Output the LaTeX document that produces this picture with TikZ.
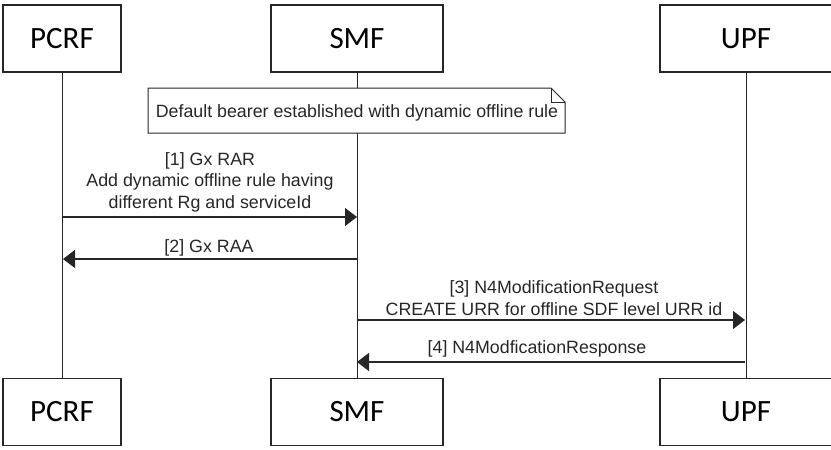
\documentclass[tikz,border=0pt]{standalone}
\usepackage{fontspec}
\setmainfont{Liberation Sans}
\newfontfamily\boxfont{Carlito}
\usetikzlibrary{arrows.meta}
\begin{document}
\begin{tikzpicture}[x=1pt,y=-1pt,
  actor/.style={draw=black!85,line width=1.3pt,fill=white,minimum height=67pt,font=\boxfont\fontsize{31}{31}\selectfont,inner sep=0pt},
  life/.style={draw=black!85,line width=1pt},
  msg/.style={draw=black!85,line width=1.2pt,-{Triangle[length=12pt,width=18pt]}},
  lbl/.style={font=\fontsize{17.8}{21.5}\selectfont,align=center,text=black!85,inner sep=0pt}]
\useasboundingbox (0,0) rectangle (831,450);
% top actors
\node[actor,minimum width=118pt] (pt) at (62,38.5) {PCRF};
\node[actor,minimum width=172pt] (st) at (357,38.5) {SMF};
\node[actor,minimum width=172pt] (ut) at (746,38.5) {UPF};
% bottom actors
\node[actor,minimum width=118pt] (pb) at (62,412) {PCRF};
\node[actor,minimum width=172pt] (sb) at (357,412) {SMF};
\node[actor,minimum width=172pt] (ub) at (746,412) {UPF};
% lifelines
\draw[life] (pt.south) -- (pb.north);
\draw[life] (st.south) -- (sb.north);
\draw[life] (ut.south) -- (ub.north);
% note
\draw[draw=black!85,line width=1pt,fill=white] (148,88) -- (551,88) -- (565,102) -- (565,133) -- (148,133) -- cycle;
\draw[draw=black!85,line width=1pt] (551,88) -- (551,102) -- (565,102);
\node[lbl] (note) at (357,113) {Default bearer established with dynamic offline rule};
% messages
\coordinate (p1) at (63,217); \coordinate (s1) at (357,217);
\draw[msg] (p1) -- (s1);
\node[lbl] (m1) at (210,182) {[1] Gx RAR\\Add dynamic offline rule having\\different Rg and serviceId};
\coordinate (s2) at (357,259); \coordinate (p2) at (63,259);
\draw[msg] (s2) -- (p2);
\node[lbl] (m2) at (209,248) {[2] Gx RAA};
\coordinate (s3) at (357,320); \coordinate (u3) at (745,320);
\draw[msg] (s3) -- (u3);
\node[lbl] (m3) at (554,298) {[3] N4ModificationRequest\\CREATE URR for offline SDF level URR id};
\coordinate (u4) at (745,362); \coordinate (s4) at (357,362);
\draw[msg] (u4) -- (s4);
\node[lbl] (m4) at (537,349) {[4] N4ModficationResponse};
\end{tikzpicture}
\end{document}
